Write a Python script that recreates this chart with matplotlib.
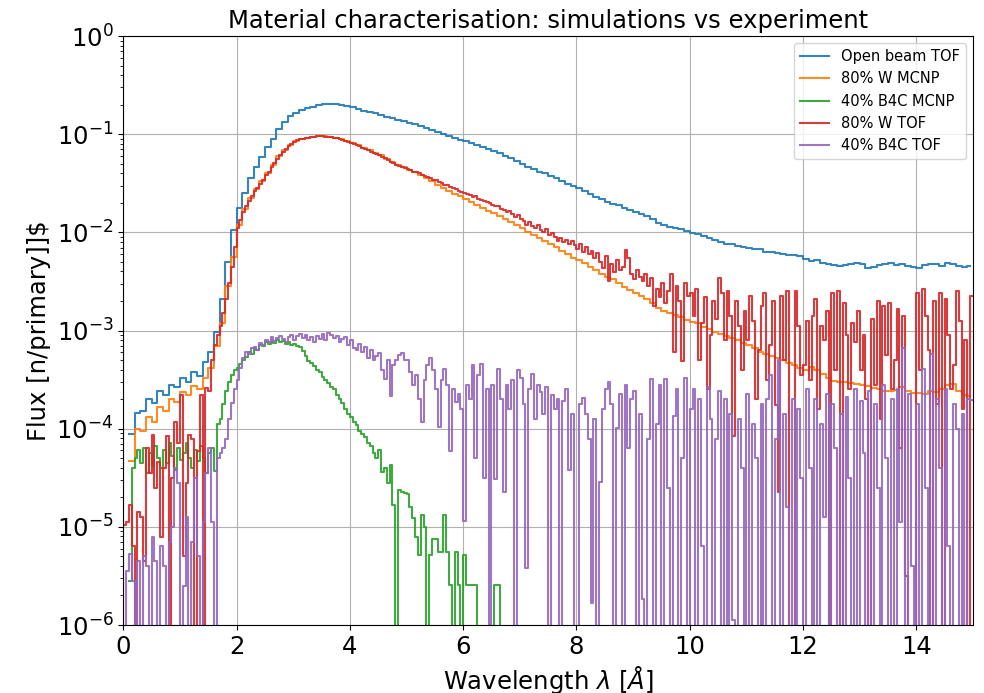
import numpy as np
import matplotlib
matplotlib.use("Agg")
import matplotlib.pyplot as plt

# - - - - - - - - - - - - - - - - - - - - - - - - - - - - - - - - - - - - - - - - #
# flux per bin, stored as log10(flux [n/primary]); -7 marks an empty bin
# open beam / 80% W MCNP are on a 0.1 A grid, the rest on a 0.05 A grid
# - - - - - - - - - - - - - - - - - - - - - - - - - - - - - - - - - - - - - - - - #
open_beam_tof = [
    np.nan, -4.05, -3.84, -3.82, -3.70, -3.74, -3.62, -3.66, -3.55, -3.58,
    -3.48, -3.52, -3.42, -3.46, -3.32, -3.22, -3.02, -2.68, -2.30, -1.98,
    -1.75, -1.60, -1.45, -1.33, -1.23, -1.13, -1.05, -0.95, -0.88, -0.81,
    -0.78, -0.75, -0.73, -0.72, -0.70, -0.69, -0.69, -0.69, -0.70, -0.71,
    -0.72, -0.74, -0.76, -0.77, -0.78, -0.80, -0.82, -0.84, -0.86, -0.87,
    -0.89, -0.90, -0.92, -0.94, -0.96, -0.98, -1.00, -1.02, -1.04, -1.06,
    -1.07, -1.09, -1.11, -1.13, -1.15, -1.17, -1.19, -1.22, -1.24, -1.27,
    -1.30, -1.33, -1.35, -1.38, -1.40, -1.43, -1.45, -1.48, -1.51, -1.53,
    -1.55, -1.58, -1.61, -1.64, -1.66, -1.69, -1.71, -1.72, -1.75, -1.77,
    -1.79, -1.81, -1.83, -1.86, -1.90, -1.92, -1.95, -1.96, -1.97, -1.99,
    -2.01, -2.02, -2.04, -2.06, -2.08, -2.10, -2.12, -2.12, -2.14, -2.15,
    -2.16, -2.17, -2.17, -2.20, -2.20, -2.21, -2.22, -2.23, -2.23, -2.24,
    -2.27, -2.29, -2.28, -2.31, -2.32, -2.33, -2.34, -2.33, -2.32, -2.31,
    -2.32, -2.36, -2.35, -2.33, -2.32, -2.31, -2.33, -2.32, -2.34, -2.35,
    -2.36, -2.33, -2.32, -2.32, -2.34, -2.31, -2.32, -2.34, -2.35, -2.34,
]

w80_mcnp = [
    np.nan, -4.33, -4.00, -4.02, -3.88, -3.93, -3.78, -3.82, -3.70, -3.73,
    -3.63, -3.66, -3.57, -3.60, -3.48, -3.38, -3.16, -2.92, -2.55, -2.25,
    -1.93, -1.76, -1.65, -1.56, -1.48, -1.40, -1.31, -1.22, -1.16, -1.11,
    -1.07, -1.05, -1.04, -1.03, -1.02, -1.02, -1.03, -1.04, -1.05, -1.07,
    -1.09, -1.11, -1.14, -1.16, -1.19, -1.21, -1.25, -1.28, -1.31, -1.33,
    -1.36, -1.39, -1.42, -1.45, -1.48, -1.52, -1.55, -1.58, -1.61, -1.63,
    -1.66, -1.69, -1.72, -1.75, -1.78, -1.80, -1.83, -1.86, -1.89, -1.93,
    -1.96, -2.00, -2.03, -2.06, -2.09, -2.12, -2.15, -2.19, -2.22, -2.26,
    -2.28, -2.31, -2.35, -2.38, -2.42, -2.45, -2.48, -2.52, -2.56, -2.59,
    -2.62, -2.65, -2.68, -2.72, -2.77, -2.80, -2.82, -2.84, -2.86, -2.89,
    -2.91, -2.92, -2.96, -2.98, -3.01, -3.04, -3.06, -3.08, -3.10, -3.13,
    -3.15, -3.18, -3.22, -3.24, -3.26, -3.28, -3.30, -3.33, -3.35, -3.38,
    -3.40, -3.37, -3.40, -3.44, -3.48, -3.51, -3.52, -3.52, -3.53, -3.54,
    -3.56, -3.57, -3.59, -3.60, -3.62, -3.62, -3.61, -3.58, -3.62, -3.64,
    -3.64, -3.65, -3.62, -3.63, -3.60, -3.55, -3.54, -3.62, -3.66, -3.67,
]

b4c40_mcnp = [
    np.nan, np.nan, -5.55, -4.40, -4.30, -4.22, -4.35, -4.20, -4.45, -4.25,
    -4.38, -4.18, -4.30, -4.40, -4.22, -4.35, -4.15, -4.28, -4.42, -4.20,
    -4.32, -4.25, -4.15, -4.30, -4.40, -4.22, -4.33, -4.18, -4.30, -4.45,
    -4.25, -4.20, -4.43, -3.95, -3.90, -3.75, -3.62, -3.52, -3.45, -3.40,
    -3.38, -3.34, -3.30, -3.27, -3.22, -3.24, -3.18, -3.20, -3.15, -3.16,
    -3.12, -3.14, -3.11, -3.13, -3.10, -3.12, -3.11, -3.14, -3.12, -3.15,
    -3.14, -3.16, -3.17, -3.21, -3.26, -3.31, -3.33, -3.36, -3.40, -3.42,
    -3.47, -3.50, -3.53, -3.58, -3.60, -3.66, -3.70, -3.74, -3.80, -3.85,
    -3.88, -3.93, -3.96, -4.02, -4.05, -4.08, -4.15, -4.18, -4.25, -4.30,
    -4.22, -4.44, -4.40, -4.55, -4.37, -4.78, -7.00, -4.62, -4.64, -4.66,
    -4.67, -4.80, -4.91, -5.10, -5.29, -4.88, -5.00, -7.00, -5.29, -5.12,
    -5.12, -5.26, -5.26, -4.88, -5.26, -5.59, -7.00, -5.26, -5.59, -7.00,
    -5.29, -5.59, -5.59, -5.59, -5.59, -7.00, -7.00, -7.00, -7.00, -7.00,
    -7.00, -5.59, -5.59, -7.00,
]

w80_tof = [
    -4.98, -4.95, -4.78, -5.20, -7.00, -4.85, -4.90, -5.35, -4.20, -4.45,
    -4.06, -4.60, -4.34, -5.10, -4.40, -4.07, -7.00, -4.50, -3.93, -4.15,
    -3.66, -5.30, -4.55, -4.06, -4.10, -7.00, -4.23, -3.66, -7.00, -3.59,
    -3.62, -3.30, -3.15, -3.05, -2.95, -2.82, -2.68, -2.52, -2.35, -2.15,
    -1.96, -1.87, -1.79, -1.73, -1.68, -1.63, -1.58, -1.55, -1.51, -1.47,
    -1.42, -1.38, -1.33, -1.29, -1.25, -1.21, -1.18, -1.15, -1.12, -1.10,
    -1.08, -1.06, -1.05, -1.05, -1.04, -1.04, -1.03, -1.03, -1.02, -1.02,
    -1.02, -1.03, -1.03, -1.03, -1.04, -1.04, -1.05, -1.06, -1.07, -1.08,
    -1.09, -1.10, -1.11, -1.12, -1.14, -1.15, -1.16, -1.18, -1.19, -1.20,
    -1.21, -1.23, -1.24, -1.26, -1.28, -1.29, -1.31, -1.32, -1.33, -1.34,
    -1.35, -1.36, -1.38, -1.39, -1.40, -1.42, -1.43, -1.44, -1.45, -1.47,
    -1.47, -1.49, -1.50, -1.52, -1.52, -1.54, -1.55, -1.56, -1.58, -1.59,
    -1.60, -1.61, -1.62, -1.64, -1.63, -1.66, -1.67, -1.68, -1.69, -1.70,
    -1.72, -1.73, -1.73, -1.76, -1.77, -1.79, -1.78, -1.81, -1.84, -1.82,
    -1.86, -1.88, -1.92, -1.89, -1.94, -1.96, -1.93, -1.98, -2.00, -1.97,
    -2.03, -2.01, -2.05, -2.09, -2.06, -2.10, -2.08, -2.12, -2.09, -2.13,
    -2.17, -2.12, -2.20, -2.15, -2.22, -2.19, -2.26, -2.21, -2.30, -2.36,
    -2.24, -2.50, -2.32, -2.40, -2.28, -2.38, -2.35, -2.18, -2.26, -2.42,
    -2.48, -2.38, -2.45, -2.50, -2.42, -2.55, -2.47, -2.75, -2.58, -2.66,
    -2.52, -2.72, -2.60, -2.42, -3.22, -2.55, -2.70, -3.31, -2.52, -2.65,
    -2.62, -2.85, -2.58, -3.30, -2.92, -2.66, -3.60, -3.05, -2.70, -2.88,
    -2.46, -2.62, -3.10, -2.60, -2.85, -4.07, -2.70, -2.95, -3.40, -2.80,
    -3.10, -2.65, -2.90, -3.70, -3.20, -2.75, -2.62, -3.50, -3.15, -2.70,
    -3.76, -4.64, -2.65, -3.30, -2.60, -7.00, -7.00, -2.60, -2.95, -3.45,
    -3.35, -2.90, -3.50, -2.85, -2.68, -3.80, -2.95, -3.10, -2.80, -7.00,
    -2.62, -3.40, -2.60, -7.00, -2.72, -3.05, -3.60, -2.92, -3.12, -2.80,
    -3.40, -3.05, -3.70, -7.00, -2.88, -3.55, -2.70, -3.90, -2.75, -3.25,
    -2.72, -3.60, -3.30, -2.78, -4.20, -2.85, -5.50, -7.00, -7.00, -7.00,
    -2.62, -3.40, -2.58, -2.85, -3.20, -7.00, -2.70, -3.75, -2.62, -7.00,
    -2.68, -3.05, -3.60, -3.35, -2.60, -2.90, -3.80, -3.10, -7.00, -2.65,
]

b4c40_tof = [
    -7.00, -5.45, -5.28, -5.55, -7.00, -5.35, -7.00, -5.30, -5.40, -7.00,
    -5.10, -5.35, -7.00, -5.20, -5.40, -7.00, -5.15, -5.00, -4.40, -4.55,
    -7.00, -5.60, -4.90, -7.00, -5.15, -4.50, -5.30, -7.00, -4.95, -4.45,
    -4.20, -4.95, -7.00, -4.30, -4.25, -4.20, -4.10, -3.90, -3.74, -3.60,
    -3.50, -3.38, -3.28, -3.22, -3.24, -3.18, -3.17, -3.20, -3.13, -3.15,
    -3.10, -3.12, -3.07, -3.11, -3.08, -3.06, -3.09, -3.12, -3.07, -3.05,
    -3.10, -3.06, -3.04, -3.08, -3.05, -3.10, -3.07, -3.12, -3.06, -3.09,
    -3.04, -3.10, -3.03, -3.05, -3.08, -3.06, -3.12, -3.09, -3.07, -3.15,
    -3.10, -3.18, -3.20, -3.14, -3.22, -3.17, -3.28, -3.20, -3.30, -3.26,
    -3.23, -3.40, -3.49, -3.30, -3.67, -3.35, -3.30, -3.25, -3.23, -3.30,
    -3.30, -3.42, -3.56, -3.45, -3.70, -3.93, -3.50, -3.35, -3.28, -3.40,
    -3.60, -3.98, -3.50, -3.39, -3.55, -4.23, -3.60, -3.73, -3.65, -3.80,
    -4.94, -3.56, -3.70, -3.35, -4.30, -3.45, -3.34, -4.50, -3.60, -7.00,
    -3.55, -4.51, -3.39, -3.70, -4.64, -3.55, -3.80, -3.50, -7.00, -3.40,
    -3.48, -3.75, -5.42, -3.60, -3.44, -3.90, -3.55, -3.63, -3.85, -3.58,
    -7.00, -3.66, -3.80, -3.70, -7.00, -3.72, -3.60, -4.42, -3.85, -7.00,
    -7.00, -3.75, -3.69, -3.85, -4.10, -5.78, -3.90, -7.00, -4.54, -3.80,
    -3.60, -3.52, -3.75, -7.00, -3.99, -3.65, -7.00, -3.55, -4.20, -3.70,
    -3.62, -7.00, -3.85, -5.74, -7.00, -4.10, -3.49, -7.00, -3.95, -3.55,
    -7.00, -3.49, -4.60, -7.00, -3.87, -3.60, -7.00, -4.30, -3.48, -7.00,
    -3.80, -3.60, -7.00, -3.70, -5.20, -7.00, -3.58, -3.90, -7.00, -4.10,
    -3.62, -7.00, -3.70, -7.00, -3.85, -5.95, -7.00, -3.90, -4.40, -7.00,
    -3.65, -7.00, -3.95, -4.30, -7.00, -3.75, -7.00, -3.70, -3.45, -7.00,
    -4.10, -3.30, -7.00, -3.85, -4.80, -7.00, -3.70, -7.00, -3.80, -4.50,
    -7.00, -3.60, -4.40, -7.00, -3.70, -7.00, -3.95, -4.90, -3.65, -7.00,
    -3.75, -4.20, -7.00, -3.85, -7.00, -3.68, -4.50, -7.00, -3.60, -7.00,
    -3.72, -4.25, -7.00, -3.62, -7.00, -3.75, -4.60, -7.00, -3.55, -4.30,
    -7.00, -3.70, -7.00, -3.60, -4.95, -3.18, -7.00, -3.65, -5.40, -7.00,
    -3.75, -7.00, -3.39, -4.60, -7.00, -3.24, -7.00, -3.70, -4.40, -7.00,
    -3.60, -5.20, -7.00, -3.75, -4.00, -7.00, -3.85, -7.00, -3.70, -3.71,
]

labels = ["Open beam TOF", "80% W MCNP", "40% B4C MCNP", "80% W TOF", "40% B4C TOF"]
# - - - - - - - - - - - - - - - - - - - - - - - - - - - - - - - - - - - - - - - - #

def bin_centres(vals, step):
    # wavelength bin centres for a series starting at 0 A
    return step / 2.0 + step * np.arange(len(vals))

series = [
    (open_beam_tof, 0.1),
    (w80_mcnp, 0.1),
    (b4c40_mcnp, 0.05),
    (w80_tof, 0.05),
    (b4c40_tof, 0.05),
]

fig = plt.figure(figsize=(9.84, 6.93), dpi=100)
ax = fig.add_axes([0.1253, 0.0981, 0.8635, 0.8499])

for (vals, step), lab in zip(series, labels):
    wl = bin_centres(vals, step)
    flux = 10.0 ** np.array(vals, dtype=float)
    ax.plot(wl, flux, drawstyle="steps-mid", linewidth=1.5, alpha=0.9, label=lab)

ax.set_yscale("log")
ax.set_xlim(0, 15)
ax.set_ylim(1e-6, 1)
ax.grid(True)

ax.set_title("Material characterisation: simulations vs experiment", fontsize=17.5)
ax.set_xlabel(r"Wavelength $\lambda$ [$\AA$]", fontsize=17.5)
ax.set_ylabel("Flux [n/primary]]$", fontsize=17.5)
ax.tick_params(axis="both", which="major", labelsize=17.5)
ax.legend(loc="upper right", fontsize=10.5)

fig.savefig("out.png", dpi=100)
